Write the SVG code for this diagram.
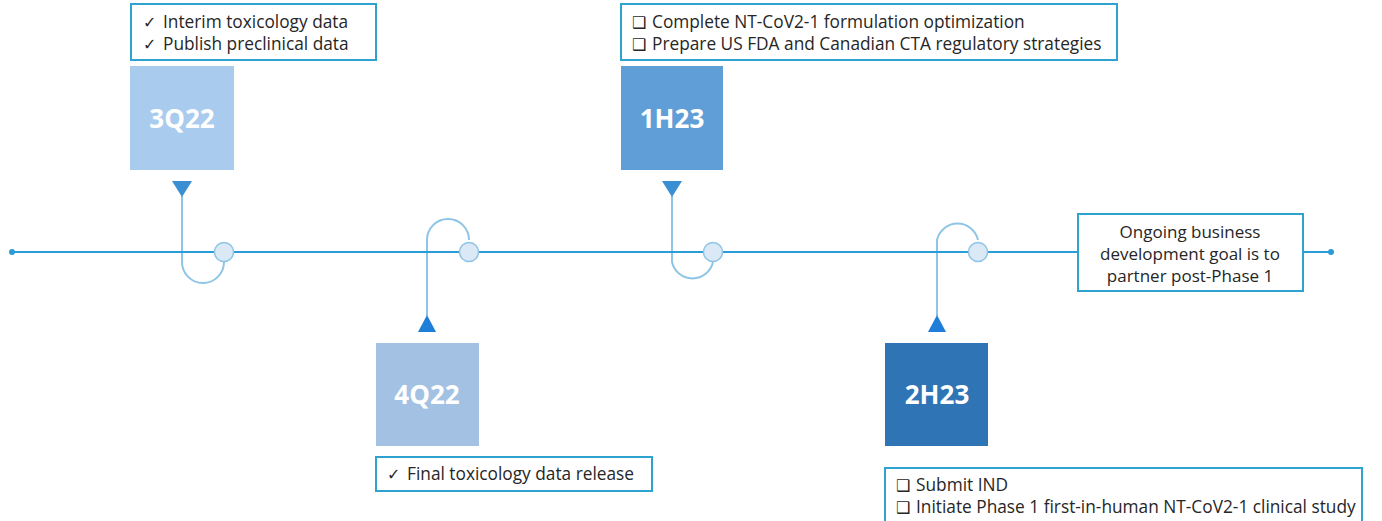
<svg xmlns="http://www.w3.org/2000/svg" width="1382" height="521" viewBox="0 0 1382 521">
<style>
.callout{fill:#fff;stroke:#2ea3cf;stroke-width:2}
.ct{font-family:"Open Sans","Noto Sans","DejaVu Sans",sans-serif;font-size:17.3px;fill:#262626}
.gt{font-family:"Open Sans","Noto Sans","DejaVu Sans",sans-serif;font-size:17px;fill:#262626;text-anchor:middle}
.sym{font-family:"DejaVu Sans",sans-serif;font-size:16px;font-weight:bold;fill:#262626}
.lbl{font-family:"Open Sans","Noto Sans",sans-serif;font-size:26px;font-weight:bold;fill:#fff;text-anchor:middle}
.conn{fill:none;stroke:#8ec5e6;stroke-width:2}
.main{stroke:#2a9cd6;stroke-width:2}
.knot{fill:#dbe8f6;stroke:#8ec5e6;stroke-width:1.5}
.tdown{fill:#3a8fd2}
.tup{fill:#1f7ed8}
</style>
<rect width="1382" height="521" fill="#fff"/>
<g id="connectors">
<path class="conn" d="M182,196 V262 A21,21 0 0 0 224,262"/>
<path class="conn" d="M427,316 V240 A21,21 0 0 1 469,240"/>
<path class="conn" d="M672,196 V262 A21,21 0 0 0 713,262"/>
<path class="conn" d="M937,316 V240 A21,21 0 0 1 978,240"/>
<line class="main" x1="12" y1="252" x2="1078" y2="252"/>
<line class="main" x1="1303" y1="252" x2="1331" y2="252"/>
<circle cx="12" cy="252" r="3" fill="#2a9cd6"/>
<circle cx="1331" cy="252" r="3" fill="#2a9cd6"/>
<circle class="knot" cx="224" cy="252" r="9.5"/>
<circle class="knot" cx="469" cy="252" r="9.5"/>
<circle class="knot" cx="713" cy="252" r="9.5"/>
<circle class="knot" cx="978" cy="252" r="9.5"/>
<polygon class="tdown" points="172,181 192,181 182,197"/>
<polygon class="tdown" points="662,181 682,181 672,197"/>
<polygon class="tup" points="418,332 436,332 427,315"/>
<polygon class="tup" points="928,332 946,332 937,315"/>
</g>
<g id="n3Q22">
<rect x="130" y="66" width="104" height="104" fill="#a9cbee"/>
<text class="lbl" x="182" y="128">3Q22</text>
</g>
<g id="c3Q22">
<rect class="callout" x="131" y="4" width="245" height="56"/>
<text class="sym" x="143" y="28">✓</text>
<text class="ct" x="163" y="28">Interim toxicology data</text>
<text class="sym" x="143" y="50">✓</text>
<text class="ct" x="163" y="50">Publish preclinical data</text>
</g>
<g id="n4Q22">
<rect x="376" y="343" width="103" height="103" fill="#a3c2e3"/>
<text class="lbl" x="427" y="404">4Q22</text>
</g>
<g id="c4Q22">
<rect class="callout" x="376" y="457" width="276" height="34"/>
<text class="sym" x="387" y="480">✓</text>
<text class="ct" x="407" y="480">Final toxicology data release</text>
</g>
<g id="n1H23">
<rect x="621" y="66" width="102" height="104" fill="#5f9ed6"/>
<text class="lbl" x="672" y="128">1H23</text>
</g>
<g id="c1H23">
<rect class="callout" x="621" y="4" width="496" height="56"/>
<text class="sym" x="632" y="28">❑</text>
<text class="ct" x="652" y="28">Complete NT-CoV2-1 formulation optimization</text>
<text class="sym" x="632" y="50">❑</text>
<text class="ct" x="652" y="50">Prepare US FDA and Canadian CTA regulatory strategies</text>
</g>
<g id="n2H23">
<rect x="885" y="343" width="103" height="103" fill="#2f74b5"/>
<text class="lbl" x="937" y="404">2H23</text>
</g>
<g id="c2H23">
<rect class="callout" x="885" y="468" width="477" height="60"/>
<text class="sym" x="896" y="491">❑</text>
<text class="ct" x="916" y="491">Submit IND</text>
<text class="sym" x="896" y="513">❑</text>
<text class="ct" x="916" y="513">Initiate Phase 1 first-in-human NT-CoV2-1 clinical study</text>
</g>
<g id="goal">
<rect class="callout" x="1078" y="214" width="225" height="77"/>
<text class="gt" x="1190" y="238">Ongoing business</text>
<text class="gt" x="1190" y="260">development goal is to</text>
<text class="gt" x="1190" y="282">partner post-Phase 1</text>
</g>
</svg>
